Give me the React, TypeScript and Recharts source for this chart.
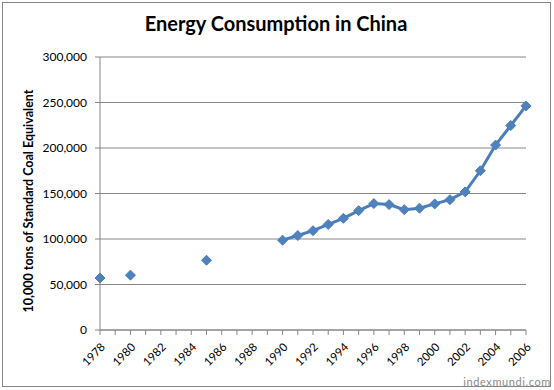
import { LineChart, Line, XAxis, YAxis, CartesianGrid, Label } from 'recharts';

const years = [
  1978, 1979, 1980, 1981, 1982, 1983, 1984, 1985, 1986, 1987,
  1988, 1989, 1990, 1991, 1992, 1993, 1994, 1995, 1996, 1997,
  1998, 1999, 2000, 2001, 2002, 2003, 2004, 2005, 2006,
];

// 10,000 tons of standard coal equivalent; null = no data that year
const consumption: (number | null)[] = [
  57144, null, 60275, null, null, null, null, 76682, null, null,
  null, null, 98703, 103783, 109170, 115993, 122737, 131176, 138948, 137798,
  132214, 133831, 138553, 143199, 151797, 174990, 203227, 224682, 246270,
];

const yTicks = [0, 50000, 100000, 150000, 200000, 250000, 300000];

const data = years.map((year, i) => ({ year, value: consumption[i] }));

const FONT = 'Lato, "Open Sans", sans-serif';
const GRID = '#868686';

function Diamond(props: any) {
  const { cx, cy, index } = props;
  if (cy == null || props.value == null) return <g key={`d-${index}`} />;
  const r = 5;
  return (
    <path
      key={`d-${index}`}
      d={`M${cx},${cy - r} L${cx + r},${cy} L${cx},${cy + r} L${cx - r},${cy} Z`}
      fill="#4F81BD"
      stroke="#4A7EBB"
      strokeWidth={1}
    />
  );
}

function YearTick(props: any) {
  const { x, y, payload } = props;
  if (payload.value % 2 !== 0) return <g />;
  return (
    <text
      x={x + 3}
      y={y + 8}
      transform={`rotate(-45, ${x + 3}, ${y + 8})`}
      textAnchor="end"
      fontFamily={FONT}
      fontSize={11.5}
      fill="#000"
      dy="0.35em"
    >
      {payload.value}
    </text>
  );
}

export default function App() {
  return (
    <div style={{ position: 'absolute', left: 0, top: 0, width: 554, height: 390, background: '#fff', fontFamily: FONT }}>
      <div
        style={{
          position: 'absolute', left: 2, top: 2, width: 549, height: 385,
          border: `1px solid ${GRID}`, boxSizing: 'border-box',
        }}
      />
      <div
        style={{
          position: 'absolute', left: 0, top: 11, width: 552, textAlign: 'center',
          fontFamily: FONT, fontWeight: 700, fontSize: 20, color: '#000',
        }}
      >
        Energy Consumption in China
      </div>
      <div
        style={{
          position: 'absolute', right: 3, top: 375, fontFamily: FONT, fontSize: 11,
          color: '#8a8a8a', letterSpacing: 0.6,
        }}
      >
        indexmundi.com
      </div>
      <LineChart
        width={554}
        height={390}
        data={data}
        margin={{ top: 57, right: 28, bottom: 0, left: 0 }}
        style={{ position: 'absolute', left: 0, top: 0 }}
      >
        <CartesianGrid vertical={false} stroke={GRID} strokeWidth={1} />
        <XAxis
          dataKey="year"
          interval={0}
          tick={<YearTick />}
          tickSize={5}
          axisLine={{ stroke: GRID }}
          tickLine={{ stroke: GRID }}
          height={60}
        />
        <YAxis
          width={100}
          domain={[0, 300000]}
          ticks={yTicks}
          interval={0}
          tickSize={5}
          tickMargin={8}
          axisLine={{ stroke: GRID }}
          tickLine={{ stroke: GRID }}
          tick={{ fontFamily: FONT, fontSize: 12, fill: '#000' }}
          tickFormatter={(v: number) => v.toLocaleString('en-US')}
        >
          <Label
            content={() => (
              <text
                x={28}
                y={201}
                transform="rotate(-90, 28, 201)"
                textAnchor="middle"
                dominantBaseline="central"
                fontFamily={FONT}
                fontWeight={700}
                fontSize={12.5}
                fill="#000"
              >
                10,000 tons of Standard Coal Equivalent
              </text>
            )}
          />
        </YAxis>
        <Line
          type="linear"
          dataKey="value"
          stroke="#4A7EBB"
          strokeWidth={3}
          connectNulls={false}
          dot={(p: any) => <Diamond {...p} />}
          activeDot={false}
          isAnimationActive={false}
        />
      </LineChart>
    </div>
  );
}
